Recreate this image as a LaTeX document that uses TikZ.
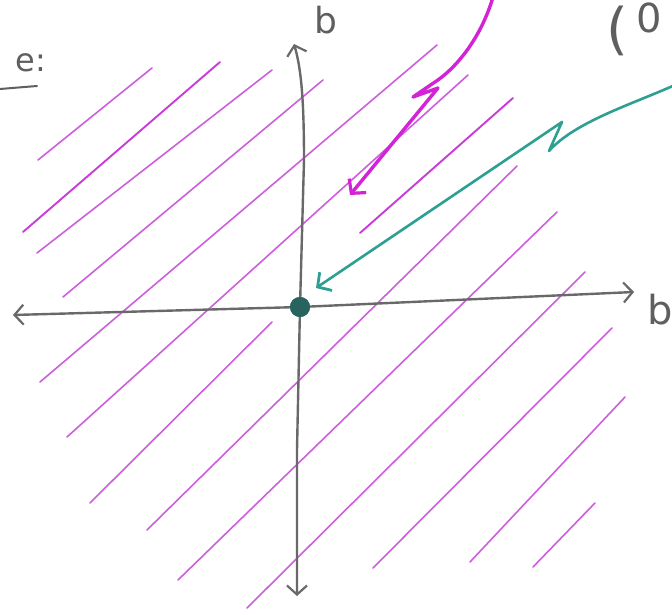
\documentclass[tikz,border=0pt]{standalone}
\usepackage{fontspec}
\setsansfont{DejaVu Sans}
\usetikzlibrary{arrows.meta}
\definecolor{hatch}{RGB}{205,95,220}
\definecolor{hatchd}{RGB}{200,60,215}
\definecolor{mag}{RGB}{210,35,215}
\definecolor{tealc}{RGB}{45,160,145}
\definecolor{dotc}{RGB}{40,100,95}
\definecolor{axisc}{RGB}{105,105,105}
\definecolor{penc}{RGB}{95,95,95}
\tikzset{
  hline/.style={draw=hatch, line width=1.6pt, line cap=round},
  hlinedark/.style={draw=hatchd, line width=1.9pt, line cap=round},
  axisline/.style={draw=axisc, line width=2.4pt, line cap=round,
    -{Straight Barb[length=9pt,width=20pt,line width=2.2pt]}},
  magarrow/.style={draw=mag, line width=3.4pt, line cap=round, line join=round,
    -{Straight Barb[length=10pt,width=22pt,line width=3.2pt]}},
  tealarrow/.style={draw=tealc, line width=2.6pt, line cap=round, line join=round,
    -{Straight Barb[length=10pt,width=22pt,line width=2.8pt]}},
  pentext/.style={text=penc, font=\sffamily, inner sep=0pt}
}
\begin{document}
\begin{tikzpicture}[x=1pt,y=-1pt]
\useasboundingbox[fill=white] (0,0) rectangle (672,609);

% hatching lines
\draw[hline] (38,160) -- (152,68);
\draw[hlinedark] (23,232) -- (220,62);
\draw[hline] (37,253) -- (272,70);
\draw[hline] (63,297) -- (323,80);
\draw[hline] (40,382) -- (437,45);
\draw[hline] (67,437) -- (468,75);
\draw[hline] (90,503) -- (272,322);
\draw[hline] (147,530) -- (517,166);
\draw[hline] (178,580) -- (557,212);
\draw[hline] (247,608) -- (585,272);
\draw[hline] (373,568) -- (612,328);
\draw[hline] (470,562) -- (625,397);
\draw[hline] (533,567) -- (595,503);
\draw[hlinedark] (360,233) -- (513,98);

% axes
\node[circle, fill=dotc, minimum size=20pt, inner sep=0pt] (O) at (300,307) {};
\coordinate (xr) at (634,292);
\coordinate (xl) at (13,315);
\coordinate (yt) at (294,44);
\coordinate (yb) at (297,596);
\draw[axisline] (O.center) -- (xr);
\draw[axisline] (O.center) -- (xl);
\draw[axisline] (O.center) -- (297,450) -- (yb);
\draw[axisline] (O.center) -- (304,160) .. controls (304,90) and (300,65) .. (yt);
\node[circle, fill=dotc, minimum size=20pt, inner sep=0pt] at (O) {};

% labels
\node[pentext, font=\sffamily\fontsize{36}{36}\selectfont] (bt) at (326,20) {b};
\node[pentext, font=\sffamily\fontsize{40}{40}\selectfont] (br) at (660,310) {b};
\node[pentext, font=\sffamily\fontsize{32}{32}\selectfont, anchor=east] (case) at (46,63) {e:};
\draw[draw=penc, line width=2pt, line cap=round] (0,89) -- (37,86);
\node[pentext, font=\sffamily\fontsize{56}{56}\selectfont] (paren) at (617,31) {(};
\node[pentext, font=\sffamily\fontsize{40}{40}\selectfont] (zero) at (649,18) {0};

% magenta arrow
\coordinate (ms) at (493,-3);
\coordinate (me) at (350,195);
\draw[magarrow] (ms) .. controls (482,35) and (458,68) .. (432,84) -- (413,97) -- (438,88) -- (me);

% teal arrow
\coordinate (ts) at (675,85);
\coordinate (te) at (316,288);
\draw[tealarrow] (ts) .. controls (630,105) and (575,122) .. (549,151) -- (562,122) -- (te);
\end{tikzpicture}
\end{document}
